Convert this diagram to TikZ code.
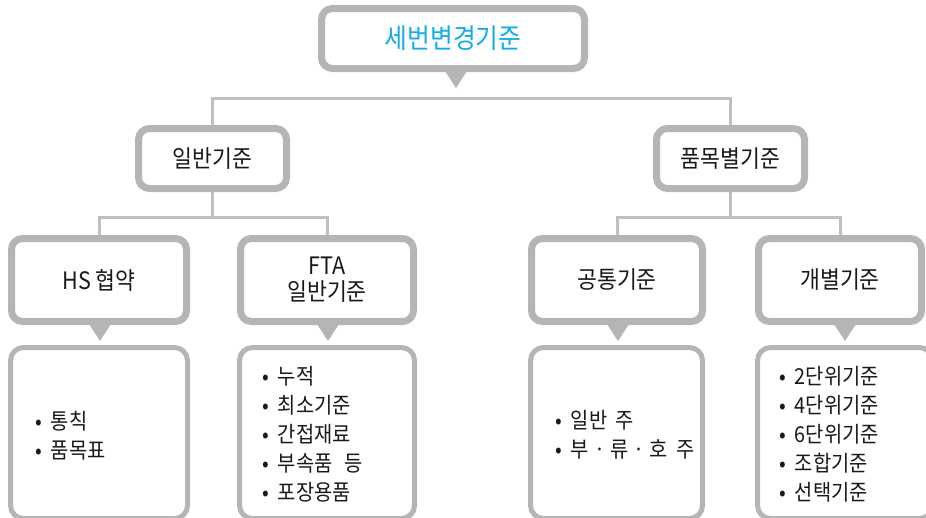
\documentclass[tikz,border=0pt]{standalone}
\usepackage{fontspec}
\setmainfont{Noto Sans CJK KR}[FakeStretch=0.9]
\usetikzlibrary{backgrounds}
\definecolor{boxgray}{RGB}{181,181,181}
\definecolor{linegray}{RGB}{192,192,192}
\definecolor{titleblue}{RGB}{20,172,232}
\definecolor{txt}{RGB}{25,25,25}
\newcommand{\bulletmark}{•\hspace{9pt}}
\begin{document}
\begin{tikzpicture}[x=1pt,y=-1pt,
  box/.style={draw=boxgray, line width=7pt, rounded corners=11pt, fill=white, inner sep=0pt,
    align=center, font=\fontsize{24}{30}\selectfont, text=txt},
  listbox/.style={draw=boxgray, line width=5pt, rounded corners=13pt, fill=white, inner sep=0pt},
  conn/.style={draw=linegray, line width=3pt},
  ptr/.style={fill=boxgray},
  items/.style={align=left, anchor=west, inner sep=0pt, font=\fontsize{22}{29}\selectfont, text=txt}]
\useasboundingbox (0,0) rectangle (926,517);
% level 1
\node[box, minimum width=263pt, minimum height=60pt, text=titleblue, font=\fontsize{27.5}{30}\selectfont] (top) at (453,38.5) {세번변경기준};
% level 2
\node[box, minimum width=148pt, minimum height=60pt] (gen) at (212.5,158.5) {일반기준};
\node[box, minimum width=148pt, minimum height=60pt] (prod) at (730.5,158.5) {품목별기준};
% level 3
\node[box, minimum width=175pt, minimum height=83pt] (hs) at (99,280) {HS 협약};
\node[box, minimum width=173pt, minimum height=83pt] (fta) at (327,280) {FTA\\[-4pt]일반기준};
\node[box, minimum width=171pt, minimum height=83pt] (com) at (617,280) {공통기준};
\node[box, minimum width=163pt, minimum height=83pt] (ind) at (840,280) {개별기준};
% list boxes
\node[listbox, minimum width=177pt, minimum height=171pt] (hsl) at (99,433) {};
\node[listbox, minimum width=175pt, minimum height=171pt] (ftal) at (327,433) {};
\node[listbox, minimum width=172pt, minimum height=171pt] (coml) at (616.5,433) {};
\node[listbox, minimum width=175pt, minimum height=171pt] (indl) at (845,433) {};
% list texts
\node[items] (hst) at (35,436) {\bulletmark 통칙\\\bulletmark 품목표};
\node[items] (ftat) at (262,434.5) {\bulletmark 누적\\\bulletmark 최소기준\\\bulletmark 간접재료\\\bulletmark 부속품\hspace{12pt}등\\\bulletmark 포장용품};
\node[items] (comt) at (555,434.5) {\bulletmark 일반\hspace{8pt}주\\\bulletmark 부\hspace{5pt}·\hspace{5pt}류\hspace{5pt}·\hspace{5pt}호\hspace{9pt}주};
\node[items] (indt) at (779,434.5) {\bulletmark 2단위기준\\\bulletmark 4단위기준\\\bulletmark 6단위기준\\\bulletmark 조합기준\\\bulletmark 선택기준};
% pointers
\coordinate (tipTop) at (456,88);
\fill[ptr] (443,68) -- (469,68) -- (tipTop) -- cycle;
\coordinate (tipHs) at (100,341);
\fill[ptr] (87,321) -- (113,321) -- (tipHs) -- cycle;
\coordinate (tipFta) at (328,341);
\fill[ptr] (315,321) -- (341,321) -- (tipFta) -- cycle;
\coordinate (tipCom) at (618,341);
\fill[ptr] (605,321) -- (631,321) -- (tipCom) -- cycle;
\coordinate (tipInd) at (845,341);
\fill[ptr] (832,321) -- (858,321) -- (tipInd) -- cycle;
% connectors
\coordinate (h1) at (0,98);
\coordinate (h2) at (0,217);
\begin{pgfonlayer}{background}
\draw[conn] (gen.north) -- (gen.north |- h1) -- (prod.north |- h1) -- (prod.north);
\draw[conn] (gen.south) -- (gen.south |- h2);
\draw[conn] (hs.north) |- (fta.north |- h2) -- (fta.north);
\draw[conn] (prod.south) -- (prod.south |- h2);
\draw[conn] (com.north) |- (ind.north |- h2) -- (ind.north);
\end{pgfonlayer}
\end{tikzpicture}
\end{document}
